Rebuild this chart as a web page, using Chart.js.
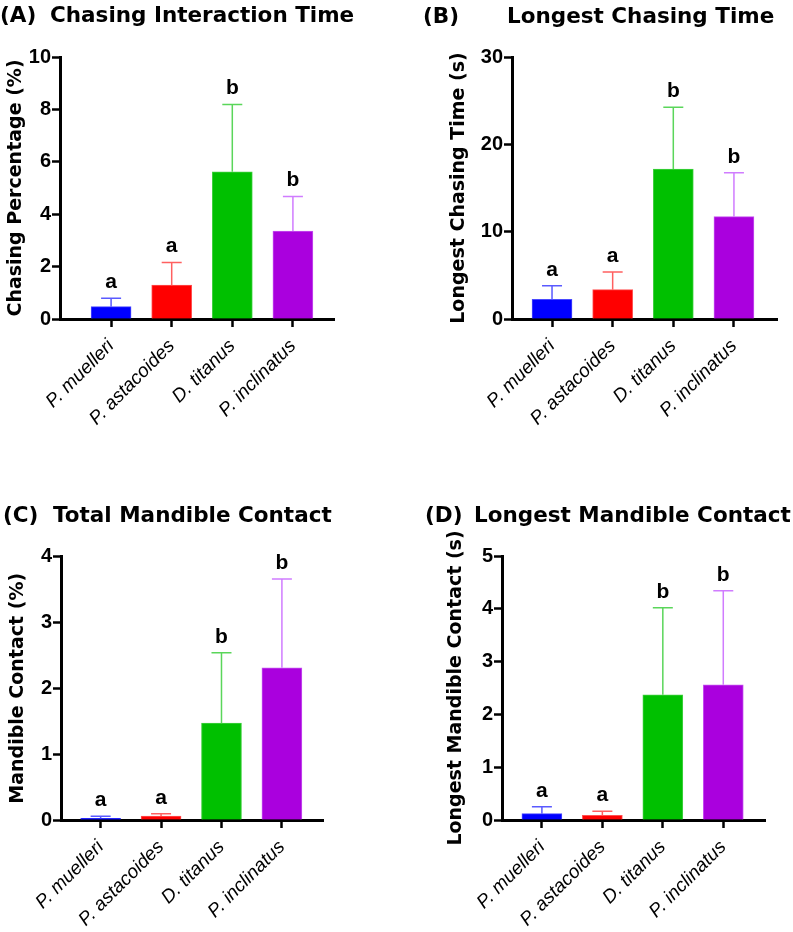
<!DOCTYPE html>
<html>
<head>
<meta charset="utf-8">
<script src="https://cdn.jsdelivr.net/npm/chart.js@4"></script>
<style>
  body { margin: 0; background: #fff; }
  #wrap { position: relative; width: 793px; height: 932px; }
  canvas { position: absolute; }
</style>
</head>
<body>
<div id="wrap">
  <canvas id="cA" width="396" height="466" style="left:0;top:0"></canvas>
  <canvas id="cB" width="393" height="466" style="left:400px;top:0"></canvas>
  <canvas id="cC" width="396" height="466" style="left:0;top:466px"></canvas>
  <canvas id="cD" width="393" height="466" style="left:400px;top:466px"></canvas>
</div>
<script>
// data (mean and upper SD per species)
const species = ['P. muelleri', 'P. astacoides', 'D. titanus', 'P. inclinatus'];
const groupLetters = ['a', 'a', 'b', 'b'];

const chasingPct = [0.47, 1.29, 5.62, 3.36];
const chasingPctSd = [0.32, 0.87, 2.57, 1.32];
const chasingPctTicks = [0, 2, 4, 6, 8, 10];

const longestChase = [2.25, 3.36, 17.18, 11.72];
const longestChaseSd = [1.57, 2.02, 7.06, 5.03];
const longestChaseTicks = [0, 10, 20, 30];

const mandiblePct = [0.025, 0.06, 1.47, 2.31];
const mandiblePctSd = [0.031, 0.036, 1.07, 1.35];
const mandiblePctTicks = [0, 1, 2, 3, 4];

const longestMandible = [0.12, 0.09, 2.37, 2.56];
const longestMandibleSd = [0.13, 0.075, 1.65, 1.78];
const longestMandibleTicks = [0, 1, 2, 3, 4, 5];

const barColors = ['#0000ff', '#ff0000', '#00c000', '#aa00de'];
const edgeColors = ['#4a4aff', '#ff5050', '#40d040', '#c450f0'];
const errColors = ['#5a5aff', '#ff6060', '#5ad65a', '#d07cff'];

const tickFont = { family: '"Liberation Sans", Arial, sans-serif', size: 20, weight: 'bold' };
const axisTitleFont = { family: '"DejaVu Sans", Verdana, sans-serif', size: 19, weight: 'bold' };

const panelDecor = {
  id: 'panelDecor',
  afterDatasetsDraw(chart, args, opts) {
    const ctx = chart.ctx;
    const meta = chart.getDatasetMeta(0);
    const yScale = chart.scales.y;
    ctx.save();
    meta.data.forEach(function(bar, i) {
      const top = yScale.getPixelForValue(opts.means[i] + opts.sd[i]);
      ctx.strokeStyle = errColors[i];
      ctx.lineWidth = 1.5;
      ctx.beginPath();
      ctx.moveTo(bar.x, bar.y);
      ctx.lineTo(bar.x, top);
      ctx.moveTo(bar.x - 10, top);
      ctx.lineTo(bar.x + 10, top);
      ctx.stroke();
      ctx.fillStyle = '#000';
      ctx.font = 'bold 21px "Liberation Sans", Arial, sans-serif';
      ctx.textAlign = 'center';
      ctx.textBaseline = 'alphabetic';
      ctx.fillText(groupLetters[i], bar.x, top - 10);
    });
    ctx.fillStyle = '#000';
    ctx.font = 'bold 21.5px "DejaVu Sans", Verdana, sans-serif';
    ctx.textAlign = 'left';
    ctx.textBaseline = 'alphabetic';
    ctx.fillText(opts.tag, opts.tagX, opts.titleY);
    ctx.fillText(opts.title, opts.titleX, opts.titleY);
    ctx.restore();
  }
};

function makeChart(id, p) {
  const ctx = document.getElementById(id).getContext('2d');
  return new Chart(ctx, {
    type: 'bar',
    data: {
      datasets: [{
        data: p.means.map(function(v, i) { return { x: i, y: v }; }),
        backgroundColor: barColors,
        borderColor: edgeColors,
        borderWidth: 1,
        barThickness: 40
      }]
    },
    options: {
      responsive: false,
      animation: false,
      devicePixelRatio: 1,
      layout: { padding: p.padding },
      plugins: {
        legend: { display: false },
        tooltip: { enabled: false },
        panelDecor: p
      },
      scales: {
        x: {
          type: 'linear',
          offset: false,
          bounds: 'data',
          min: p.xMin,
          max: p.xMax,
          afterBuildTicks: function(scale) {
            scale.ticks = species.map(function(s, i) { return { value: i }; });
          },
          afterFit: function(scale) { scale.height = p.xHeight; },
          grid: { offset: false, drawOnChartArea: false, drawTicks: true, tickLength: 8, tickWidth: 2.5, color: '#000' },
          border: { display: true, width: 3, color: '#000' },
          ticks: {
            autoSkip: false,
            minRotation: 45,
            maxRotation: 45,
            padding: 8,
            color: '#000',
            font: { family: '"Liberation Sans", Arial, sans-serif', size: 19, style: 'italic' },
            callback: function(v) { return species[v]; }
          }
        },
        y: {
          min: 0,
          max: p.ticks[p.ticks.length - 1],
          afterBuildTicks: function(scale) {
            scale.ticks = p.ticks.map(function(v) { return { value: v }; });
          },
          afterFit: function(scale) { scale.width = p.yWidth; },
          grid: { drawOnChartArea: false, drawTicks: true, tickLength: 8, tickWidth: 2.5, color: '#000' },
          border: { display: true, width: 3, color: '#000' },
          ticks: { padding: 1, color: '#000', font: tickFont },
          title: { display: true, text: p.yTitle, color: '#000', font: axisTitleFont, padding: { top: 5, bottom: 0 } }
        }
      }
    },
    plugins: [panelDecor]
  });
}

makeChart('cA', {
  means: chasingPct, sd: chasingPctSd, ticks: chasingPctTicks,
  yTitle: 'Chasing Percentage (%)', tag: '(A)', title: 'Chasing Interaction Time',
  tagX: 0, titleX: 50, titleY: 22,
  xMin: -0.843, xMax: 3.678, padding: { left: 0, top: 57, right: 62, bottom: 0 },
  yWidth: 60, xHeight: 147
});

makeChart('cB', {
  means: longestChase, sd: longestChaseSd, ticks: longestChaseTicks,
  yTitle: 'Longest Chasing Time (s)', tag: '(B)', title: 'Longest Chasing Time',
  tagX: 23, titleX: 107, titleY: 22.5,
  xMin: -0.66, xMax: 3.71, padding: { left: 43, top: 57, right: 16, bottom: 0 },
  yWidth: 69, xHeight: 147
});

makeChart('cC', {
  means: mandiblePct, sd: mandiblePctSd, ticks: mandiblePctTicks,
  yTitle: 'Mandible Contact (%)', tag: '(C)', title: 'Total Mandible Contact',
  tagX: 3, titleX: 53, titleY: 56,
  xMin: -0.656, xMax: 3.68, padding: { left: 2, top: 90.5, right: 73, bottom: 0 },
  yWidth: 59, xHeight: 112
});

makeChart('cD', {
  means: longestMandible, sd: longestMandibleSd, ticks: longestMandibleTicks,
  yTitle: 'Longest Mandible Contact (s)', tag: '(D)', title: 'Longest Mandible Contact',
  tagX: 25, titleX: 74, titleY: 56,
  xMin: -0.66, xMax: 3.69, padding: { left: 40, top: 90, right: 28, bottom: 0 },
  yWidth: 62, xHeight: 112
});
</script>
</body>
</html>
